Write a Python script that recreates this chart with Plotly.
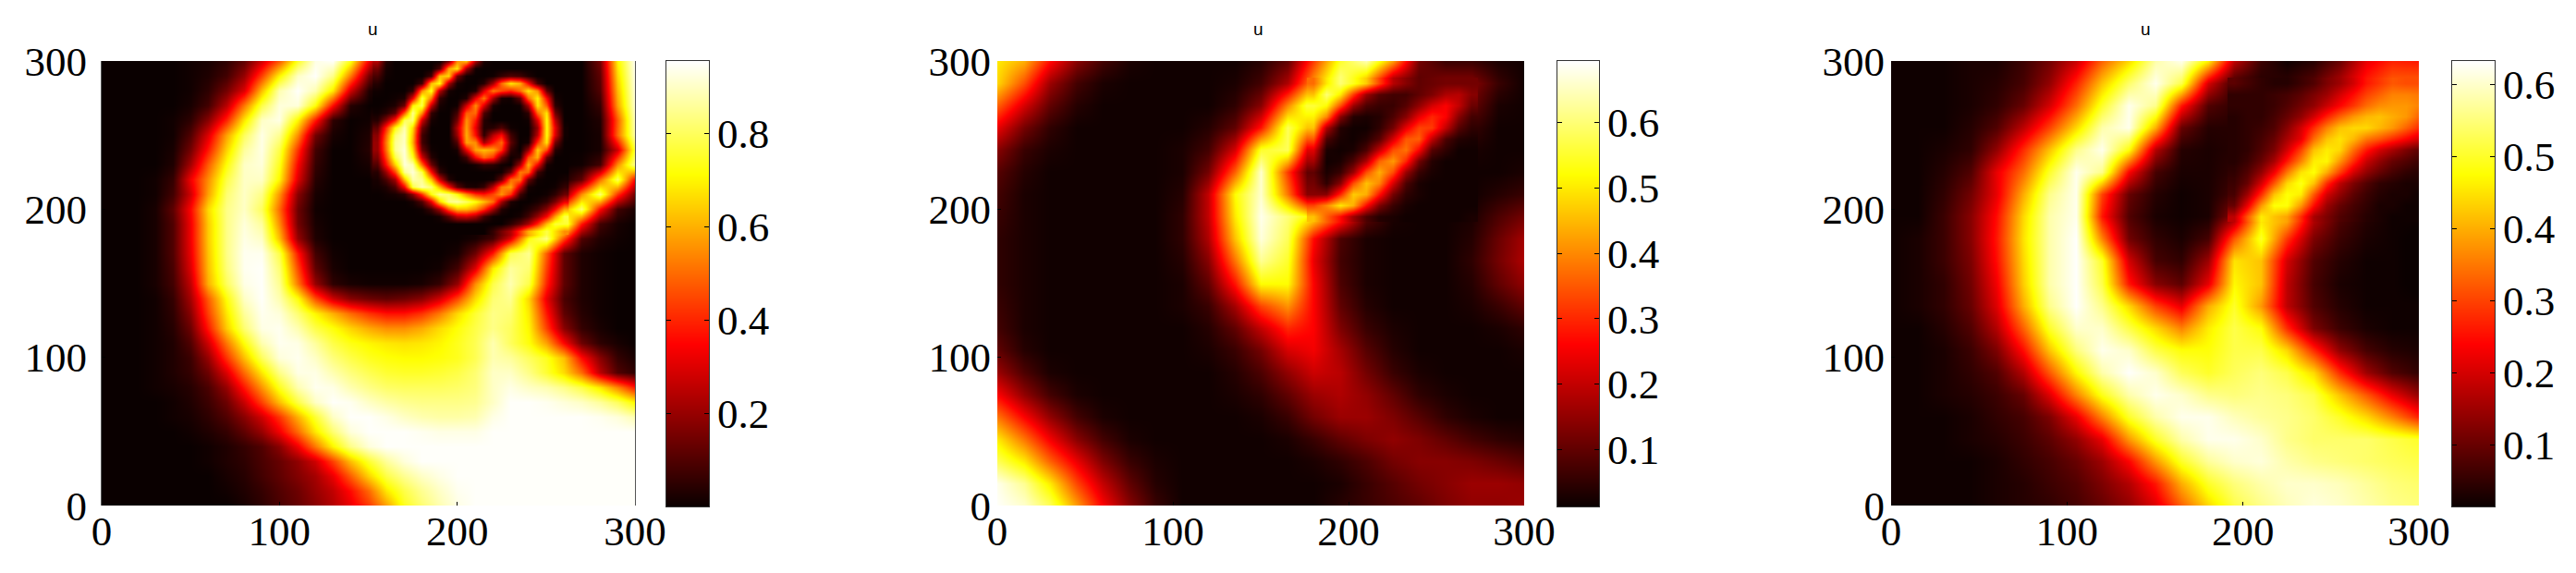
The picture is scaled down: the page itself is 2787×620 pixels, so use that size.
import numpy as np
import plotly.graph_objects as go

# all values, in hundredths of u
x1 = [0, 10, 20, 30, 40, 50, 60, 70, 80, 90, 100, 110, 120, 130, 140, 150, 160, 170, 180, 190, 200, 210, 220, 230, 240, 250, 260, 270, 280, 290, 300]
y1 = [0, 10, 20, 30, 40, 50, 60, 70, 80, 90, 100, 110, 120, 130, 140, 150, 160, 170, 180, 190, 200, 210, 220, 230, 240, 250, 260, 270, 280, 290, 300]
u1 = [
    [0,0,0,0,0,0,0,0,2,5,9,13,18,24,32,43,58,74,82,88,93,95,95,95,95,95,95,95,95,95,95],
    [0,0,0,0,0,0,0,1,3,6,10,14,20,26,36,50,68,78,85,90,94,95,95,95,95,95,95,95,95,95,95],
    [0,0,0,0,0,0,0,2,4,8,12,17,22,32,48,65,78,85,90,93,95,95,95,95,95,95,95,95,95,95,95],
    [0,0,0,0,0,0,1,3,5,9,13,19,28,44,62,76,86,92,95,95,95,95,95,95,95,95,95,95,95,95,95],
    [0,0,0,0,0,0,1,3,6,10,18,33,52,70,84,92,95,95,95,95,95,95,95,95,95,95,95,95,95,95,95],
    [0,0,0,0,0,1,3,6,12,20,33,50,68,82,92,95,95,95,94,93,93,93,95,95,95,95,95,95,95,95,95],
    [0,0,0,0,1,2,5,10,18,28,42,60,76,90,95,95,93,90,88,87,87,88,93,95,95,95,95,95,94,92,88],
    [0,0,0,0,1,3,7,14,27,44,62,78,90,95,94,90,87,85,84,84,84,85,90,95,95,94,92,90,86,80,70],
    [0,0,0,1,2,4,9,20,38,56,74,88,94,93,88,84,81,80,80,80,81,83,90,93,90,88,84,78,68,54,38],
    [0,0,0,1,3,6,14,30,50,68,84,93,93,88,83,79,76,75,75,76,78,82,90,90,84,76,66,50,25,10,5],
    [0,0,0,1,3,7,20,42,62,80,92,94,90,83,78,74,72,71,71,72,74,79,88,86,80,74,62,36,18,6,2],
    [0,0,0,1,3,10,28,52,72,88,94,93,86,78,73,70,68,67,68,70,74,79,88,80,72,58,35,14,5,2,0],
    [0,0,0,1,4,14,38,64,82,93,94,88,78,72,65,59,55,55,59,66,72,78,84,80,70,44,18,6,2,0,0],
    [0,0,0,1,5,18,44,68,86,94,92,82,70,60,50,42,37,37,42,52,66,76,84,82,68,38,12,4,1,0,0],
    [0,0,0,1,6,22,48,72,90,95,88,72,46,28,18,14,12,14,18,28,45,66,82,85,65,32,9,3,1,0,0],
    [0,0,0,2,8,26,60,80,93,95,85,52,20,5,2,1,1,1,2,6,20,55,78,88,78,40,12,3,1,0,0],
    [0,0,0,2,9,30,62,83,94,95,82,45,12,2,0,0,0,0,0,1,8,30,68,86,82,44,12,3,1,0,0],
    [0,0,0,2,10,32,63,84,94,94,78,38,8,1,0,0,0,0,0,0,2,14,38,78,85,48,12,3,1,0,0],
    [0,0,0,2,10,33,64,84,93,90,62,20,3,0,0,0,0,0,0,0,0,2,8,30,72,84,45,10,3,1,0],
    [0,0,0,2,10,33,64,84,92,86,55,15,2,0,0,0,0,0,0,0,0,0,0,5,22,62,84,38,8,2,0],
    [0,0,0,2,12,35,66,84,90,80,50,14,1,0,0,0,0,0,0,0,0,0,0,0,3,18,58,82,36,8,2],
    [0,0,0,1,8,28,58,82,90,84,56,18,2,0,0,0,1,0,0,0,0,0,0,0,0,2,14,55,82,42,14],
    [0,0,0,1,6,33,55,78,90,90,70,30,4,0,0,0,8,0,0,0,0,0,0,0,0,0,2,12,50,80,35],
    [0,0,0,0,3,22,48,72,90,92,74,35,6,0,0,2,35,0,0,0,0,0,0,0,0,0,0,1,8,55,85],
    [0,0,0,0,2,15,38,65,86,93,78,42,8,0,0,4,48,0,0,0,0,0,0,0,0,0,0,0,2,28,78],
    [0,0,0,0,1,10,30,58,80,93,85,55,15,2,0,3,46,0,0,0,0,0,0,0,0,0,0,0,2,50,88],
    [0,0,0,0,1,5,18,40,68,90,93,70,38,5,0,1,18,0,0,0,0,0,0,0,0,0,0,0,3,48,90],
    [0,0,0,0,0,2,8,25,52,78,92,92,72,36,4,0,1,0,0,0,0,0,0,0,0,0,0,0,6,58,92],
    [0,0,0,0,0,1,5,15,30,62,88,95,88,68,28,3,0,0,0,0,0,0,0,0,0,0,0,0,10,62,93],
    [0,0,0,0,0,1,3,8,20,44,70,90,95,84,52,15,1,0,0,0,0,0,0,0,0,0,0,0,12,66,94],
    [0,0,0,0,0,1,2,5,12,28,47,75,93,95,73,33,2,0,0,0,0,0,0,0,0,0,0,0,15,70,95],
]

# finer reading of the spiral in the first panel
xs = [155, 160, 165, 170, 175, 180, 185, 190, 195, 200, 205, 210, 215, 220, 225, 230, 235, 240, 245, 250, 255, 260]
ys = [185, 190, 195, 200, 205, 210, 215, 220, 225, 230, 235, 240, 245, 250, 255, 260, 265, 270, 275, 280, 285, 290, 295, 300]
us = [
    [0,0,0,0,0,0,0,0,0,0,0,0,0,6,15,24,42,60,69,78,67,55],
    [0,0,0,0,0,0,0,0,0,0,0,0,0,0,0,5,12,22,40,62,76,76],
    [0,0,0,0,0,0,0,2,12,25,28,22,8,1,0,0,2,8,20,35,58,78],
    [0,0,0,0,0,1,8,22,48,62,62,55,42,22,4,0,0,3,8,18,35,58],
    [0,0,0,0,2,10,32,65,84,86,80,72,62,50,22,3,0,0,2,6,16,32],
    [0,1,2,5,18,42,72,85,82,72,55,42,38,45,56,42,8,0,0,1,5,14],
    [1,3,10,35,78,88,82,60,35,12,3,2,6,25,52,58,28,2,0,0,1,6],
    [2,9,22,62,88,85,62,28,4,0,0,0,0,1,14,50,52,14,1,0,0,2],
    [4,20,45,85,92,78,36,6,0,0,0,0,0,0,1,14,52,50,8,0,0,0],
    [10,36,65,92,88,50,14,1,0,0,0,2,6,5,1,0,22,60,34,2,0,0],
    [16,44,78,92,74,28,4,0,0,0,8,35,50,42,15,1,4,46,60,14,0,0],
    [20,50,85,92,66,14,1,0,0,2,32,58,62,58,42,6,0,20,64,45,4,0],
    [20,52,85,90,60,8,0,0,0,10,58,55,22,38,50,12,0,2,42,68,15,0],
    [18,48,82,90,62,8,0,0,0,20,60,36,5,25,36,8,0,0,25,72,30,1],
    [12,40,72,88,66,14,0,0,0,24,58,32,3,4,10,1,0,0,20,72,32,1],
    [4,18,40,80,82,28,2,0,0,15,56,38,4,0,0,0,0,1,30,72,25,0],
    [1,4,12,48,85,55,6,0,0,8,48,50,10,0,0,0,0,5,50,68,14,0],
    [0,1,3,14,70,78,26,2,0,1,28,55,30,3,0,0,1,22,68,48,5,0],
    [0,0,1,3,32,78,52,6,0,0,3,32,52,22,2,1,12,50,70,35,2,0],
    [1,0,0,0,6,55,74,25,2,0,0,3,30,52,45,40,50,68,55,12,0,0],
    [4,0,0,0,0,8,62,72,22,2,0,0,4,22,50,68,60,35,8,0,0,0],
    [9,1,0,0,0,0,8,62,65,15,1,0,0,1,6,10,8,3,0,0,0,0],
    [15,2,0,0,0,0,0,10,58,68,22,1,0,0,0,0,0,0,0,0,0,0],
    [24,4,0,0,0,0,0,0,15,55,62,22,2,0,0,0,0,0,0,0,0,0],
]

x2 = [0, 15, 30, 45, 60, 75, 90, 105, 120, 135, 150, 165, 180, 195, 210, 225, 240, 255, 270, 285, 300]
y2 = [0, 15, 30, 45, 60, 75, 90, 105, 120, 135, 150, 165, 180, 195, 210, 225, 240, 255, 270, 285, 300]
u2 = [
    [69,66,58,42,26,14,6,2,2,2,2,2,2,4,6,8,10,13,15,15,16],
    [68,62,50,33,20,10,4,2,2,2,2,2,2,3,6,9,12,14,16,16,15],
    [58,50,36,24,13,6,3,2,2,2,2,2,3,5,8,12,14,14,13,11,9],
    [50,38,25,14,7,3,2,2,2,2,2,3,6,10,13,15,13,10,7,5,4],
    [38,26,15,7,3,2,2,2,2,2,3,6,12,16,16,13,9,5,3,2,2],
    [26,15,7,3,2,2,2,2,2,3,5,10,16,18,15,10,5,3,2,2,2],
    [16,8,3,2,2,2,2,2,2,4,8,15,21,19,12,6,3,2,2,2,2],
    [10,4,2,2,2,2,2,2,3,6,12,22,25,17,9,4,2,2,2,2,3],
    [7,3,2,2,2,2,2,2,4,10,20,30,26,13,6,3,2,2,2,3,5],
    [6,3,2,2,2,2,2,3,6,17,33,41,26,10,4,2,2,2,3,6,10],
    [5,3,2,2,2,2,2,3,10,28,52,52,26,8,3,2,2,2,4,10,15],
    [5,3,2,2,2,2,2,4,14,38,62,55,24,7,3,2,2,2,5,12,18],
    [5,3,2,2,2,2,2,5,18,46,67,58,27,8,3,2,2,2,4,11,17],
    [6,3,2,2,2,2,2,5,20,50,68,60,50,33,10,3,2,2,3,8,12],
    [7,3,2,2,2,2,2,4,20,52,66,38,6,28,44,14,3,2,2,4,6],
    [9,4,2,2,2,2,2,3,12,36,66,32,3,6,36,32,6,2,2,2,3],
    [14,6,3,2,2,2,2,3,7,22,55,58,12,2,8,33,36,9,3,2,2],
    [24,12,5,2,2,2,2,2,4,10,28,58,42,4,2,10,34,24,6,2,2],
    [36,22,10,4,2,2,2,2,2,5,14,40,62,34,8,6,16,26,11,3,2],
    [48,34,16,7,3,2,2,2,2,3,7,18,42,62,42,12,9,14,14,6,2],
    [50,44,27,14,7,3,2,2,2,2,4,10,32,55,64,42,12,6,6,3,2],
]

# finer reading of the second arm in the middle panel
xs2 = [180, 187.5, 195, 202.5, 210, 217.5, 225, 232.5, 240, 247.5, 255, 262.5, 270]
ys2 = [195, 202.5, 210, 217.5, 225, 232.5, 240, 247.5, 255, 262.5, 270, 277.5, 285]
us2 = [
    [46,36,27,16,8,4,3,2,2,2,2,2,3],
    [33,40,50,44,27,13,6,3,2,2,2,2,2],
    [14,14,30,47,44,28,12,5,3,2,2,2,2],
    [12,5,14,34,46,40,22,8,3,2,2,2,2],
    [10,3,6,16,34,44,34,16,6,3,2,2,2],
    [17,2,3,8,18,36,42,30,12,4,2,2,2],
    [23,3,2,3,8,20,34,38,26,9,5,2,2],
    [35,8,3,2,4,9,22,35,36,20,8,4,3],
    [46,18,4,2,2,5,12,24,33,32,20,9,5],
    [51,40,14,4,3,4,8,14,24,30,26,14,7],
    [56,52,34,16,8,6,6,9,15,22,26,20,11],
    [46,60,50,32,16,9,7,7,10,13,18,19,14],
    [37,50,60,54,47,33,19,14,10,11,12,12,12],
]

x3 = [0, 15, 30, 45, 60, 75, 90, 105, 120, 135, 150, 165, 180, 195, 210, 225, 240, 255, 270, 285, 300]
y3 = [0, 15, 30, 45, 60, 75, 90, 105, 120, 135, 150, 165, 180, 195, 210, 225, 240, 255, 270, 285, 300]
u3 = [
    [2,2,2,2,3,4,5,7,10,14,21,33,44,52,56,59,61,60,58,56,55],
    [2,2,2,2,3,4,6,8,12,17,26,40,50,55,58,60,60,59,57,55,54],
    [2,2,2,2,3,5,7,10,15,24,38,50,57,60,61,58,56,55,54,53,52],
    [2,2,2,3,4,6,9,14,22,38,50,58,62,62,60,56,54,54,54,52,50],
    [2,2,2,3,5,7,12,22,36,50,58,62,62,59,57,56,54,50,44,36,27],
    [2,2,3,4,6,10,21,36,49,58,62,60,56,55,56,55,52,42,32,22,14],
    [2,2,3,5,8,17,32,47,58,63,60,53,50,53,55,52,44,28,15,8,5],
    [2,2,3,6,12,25,42,55,62,60,52,48,48,52,52,44,28,14,7,4,3],
    [2,2,4,8,17,33,50,60,60,52,44,36,46,52,48,28,12,6,3,2,2],
    [2,3,5,10,21,40,56,63,56,44,30,22,40,50,38,18,8,4,2,2,2],
    [2,3,5,11,23,43,58,63,52,26,13,9,22,47,42,18,7,3,2,2,1],
    [2,3,6,12,25,44,58,63,50,20,7,5,15,45,42,20,8,4,2,2,1],
    [2,3,6,13,26,45,58,63,36,11,5,3,7,32,50,29,12,6,3,2,1],
    [2,2,6,13,25,44,58,62,26,8,3,2,3,14,44,42,18,8,4,2,2],
    [2,2,5,11,22,40,56,62,30,10,4,2,3,7,28,48,32,14,6,3,2],
    [2,2,4,8,22,34,50,62,56,24,7,3,3,5,14,35,48,30,14,7,4],
    [2,2,3,5,14,28,42,56,62,48,17,4,3,4,8,20,42,44,26,16,9],
    [2,2,2,4,8,18,30,44,58,62,40,10,4,4,6,13,28,42,44,38,28],
    [2,2,2,3,5,10,20,34,50,62,56,26,8,5,5,8,14,24,34,38,36],
    [2,2,2,3,4,7,14,27,42,54,62,52,20,6,4,5,9,17,27,33,33],
    [2,2,2,3,3,6,11,19,33,44,58,62,46,18,6,2,4,10,22,27,26],
]

# finer reading of the right arm in the third panel
xs3 = [195, 202.5, 210, 217.5, 225, 232.5, 240, 247.5, 255, 262.5, 270, 277.5, 285, 292.5, 300]
ys3 = [195, 202.5, 210, 217.5, 225, 232.5, 240, 247.5, 255, 262.5, 270, 277.5, 285]
us3 = [
    [18,32,46,42,39,28,16,12,8,6,4,3,2,2,2],
    [10,22,38,48,48,38,25,15,10,7,5,3,3,2,2],
    [7,15,28,42,48,46,32,20,14,9,6,4,3,3,2],
    [6,10,20,32,44,49,42,28,18,12,8,5,4,3,3],
    [5,8,14,23,35,45,48,40,30,20,14,10,7,5,4],
    [4,6,10,16,26,36,46,47,38,28,19,14,10,8,6],
    [4,5,8,12,20,30,42,46,44,34,26,20,16,12,9],
    [4,5,7,10,16,22,34,42,45,41,35,32,28,24,20],
    [4,5,6,8,13,20,28,36,42,44,44,41,38,33,28],
    [4,5,5,7,10,14,20,27,33,38,41,42,40,38,33],
    [5,5,5,6,8,11,14,19,24,29,34,37,38,38,36],
    [5,5,5,6,7,9,12,15,20,25,30,33,36,36,35],
    [9,7,5,4,4,6,8,12,15,20,26,29,32,31,31],
]

axis_ticks = [0, 100, 200, 300]
bar_ticks1 = [0.2, 0.4, 0.6, 0.8]
bar_ticks2 = [0.1, 0.2, 0.3, 0.4, 0.5, 0.6]
bar_ticks3 = [0.1, 0.2, 0.3, 0.4, 0.5, 0.6]
bar_range1 = [0.0, 0.955]
bar_range2 = [0.013, 0.694]
bar_range3 = [0.015, 0.632]

# the page body keeps its 8px margin, so the figure sits 8px in from the corner
PAD = 8
W, H = 2787 - 2 * PAD, 620 - 2 * PAD
hot = [[0, "rgb(10,0,0)"], [0.365, "rgb(255,0,0)"], [0.746, "rgb(255,255,0)"], [1, "rgb(255,255,255)"]]
serif = dict(family="Liberation Serif", size=45, color="black")


def fx(px):
    return (px - PAD) / W


def fy(px):
    return 1 - (px - PAD) / H


def panel(x, y, u, zr, xname, yname):
    return go.Heatmap(x=x, y=y, z=np.array(u) / 100, zmin=zr[0], zmax=zr[1], zsmooth="best",
                      colorscale=hot, xaxis=xname, yaxis=yname, showscale=False)


def bar(zr, xname, yname):
    # colour bars are small heatmaps on their own axes
    return go.Heatmap(x=[0, 1], y=zr, z=[[zr[0], zr[0]], [zr[1], zr[1]]], zmin=zr[0], zmax=zr[1], zsmooth="best",
                      colorscale=hot, xaxis=xname, yaxis=yname, showscale=False)


fig = go.Figure()
fig.add_trace(panel(x1, y1, u1, bar_range1, "x", "y"))
fig.add_trace(panel(xs, ys, us, bar_range1, "x", "y"))
fig.add_trace(panel(x2, y2, u2, bar_range2, "x2", "y2"))
fig.add_trace(panel(xs2, ys2, us2, bar_range2, "x2", "y2"))
fig.add_trace(panel(x3, y3, u3, bar_range3, "x3", "y3"))
fig.add_trace(panel(xs3, ys3, us3, bar_range3, "x3", "y3"))
fig.add_trace(bar(bar_range1, "x4", "y4"))
fig.add_trace(bar(bar_range2, "x5", "y5"))
fig.add_trace(bar(bar_range3, "x6", "y6"))

ax = dict(range=[0, 300], tickvals=axis_ticks, ticks="inside", ticklen=4, tickcolor="black", automargin=False,
          tickfont=serif, showgrid=False, zeroline=False, showline=False)
spans = [(110, 687), (1079, 1649), (2046, 2617)]
bars = [(721, 767, bar_range1, bar_ticks1), (1685, 1730, bar_range2, bar_ticks2), (2653, 2699, bar_range3, bar_ticks3)]
layout = dict(width=W, height=H, autosize=False, margin=dict(l=0, r=0, t=0, b=0),
              paper_bgcolor="white", plot_bgcolor="white", showlegend=False)
for i, (a, b) in enumerate(spans):
    s = "" if i == 0 else str(i + 1)
    layout["xaxis" + s] = dict(ax, domain=[fx(a), fx(b)], anchor="y" + s, ticklabelstandoff=-3)
    layout["yaxis" + s] = dict(ax, domain=[fy(547), fy(66)], anchor="x" + s, ticklabelstandoff=6)
# only the first panel shows a thin frame line on its white right edge
layout["yaxis"].update(showline=True, mirror=True, linecolor="#555555", linewidth=1)
for i, (a, b, zr, ticks) in enumerate(bars):
    s = str(i + 4)
    layout["xaxis" + s] = dict(domain=[fx(a), fx(b)], anchor="y" + s, range=[0, 1], showticklabels=False,
                               ticks="", showgrid=False, zeroline=False, showline=True, mirror=True,
                               linecolor="#333333", linewidth=1, automargin=False)
    layout["yaxis" + s] = dict(domain=[fy(548), fy(66)], anchor="x" + s, range=zr, side="right",
                               tickvals=ticks, ticks="inside", ticklen=5, tickcolor="black", tickfont=serif,
                               showgrid=False, zeroline=False, showline=True, mirror="ticks",
                               linecolor="#333333", linewidth=1, ticklabelstandoff=-1, automargin=False)
fig.update_layout(**layout)

for a, b in spans:
    fig.add_annotation(text="u", xref="paper", yref="paper", x=fx((a + b - 6) / 2), y=fy(32),
                       showarrow=False, yanchor="middle", font=dict(family="Liberation Sans", size=19, color="black"))

fig.write_html("out.html")
